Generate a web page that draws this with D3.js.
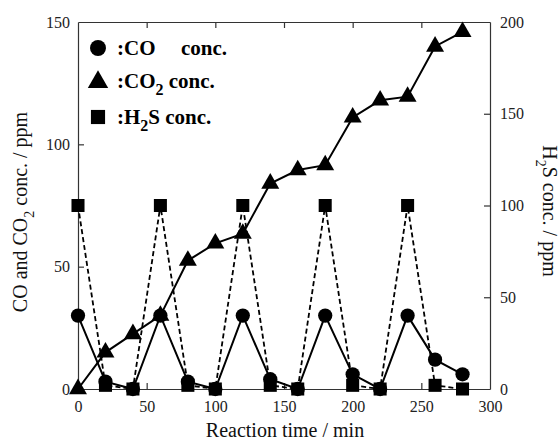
<!DOCTYPE html>
<html>
<head>
<meta charset="utf-8">
<script src="https://cdn.jsdelivr.net/npm/d3@7"></script>
<style>
    body { margin: 0; background: #fff; }
    svg text { font-family: "Liberation Serif", "Times New Roman", Times, serif !important; }
</style>
</head>
<body>
<div id="chart"></div>
<script>
var times = [0, 20, 40, 60, 80, 100, 120, 140, 160, 180, 200, 220, 240, 260, 280];
var coConc = [30, 3, 0, 30, 3, 0, 30, 4, 0, 30, 6, 0, 30, 12, 6];
var co2Conc = [0, 15, 22.5, 30, 52.5, 59.5, 63.5, 84, 89.5, 91.5, 111, 118, 119.5, 140, 146];
var h2sConc = [100, 2, 0, 100, 2, 0, 100, 2, 0, 100, 2, 0, 100, 2, 0];
var xTicks = [0, 50, 100, 150, 200, 250, 300];
var leftTicks = [0, 50, 100, 150];
var rightTicks = [0, 50, 100, 150, 200];

var width = 560, height = 442;
var margin = {left: 78, right: 70, top: 22, bottom: 53};
var serif = "Liberation Serif";

var svg = d3.select("#chart")
    .append("svg")
    .attr("width", width)
    .attr("height", height)
    .attr("font-family", serif);

var x = d3.scaleLinear()
    .domain([0, 300])
    .range([margin.left, width - margin.right]);

var yL = d3.scaleLinear()
    .domain([0, 150])
    .range([height - margin.bottom, margin.top]);

var yR = d3.scaleLinear()
    .domain([0, 200])
    .range([height - margin.bottom, margin.top]);

var tickLen = 6;
var frameColor = "#333";

// frame box with inward ticks
function styleAxis(g) {
    g.attr("font-family", serif);
    g.select(".domain").attr("stroke", frameColor).attr("stroke-width", 1.2);
    g.selectAll(".tick line").attr("stroke", frameColor).attr("stroke-width", 1.2);
    g.selectAll(".tick text")
        .attr("font-family", serif)
        .attr("font-size", "16px")
        .attr("fill", "#222");
}

svg.append("g")
    .attr("transform", "translate(0," + yL(0) + ")")
    .call(d3.axisBottom(x).tickValues(xTicks).tickSizeInner(-tickLen).tickSizeOuter(0).tickPadding(12))
    .call(styleAxis)
    .call(function (g) {
        g.selectAll(".tick").filter(function (d) { return d === 0 || d === 300; }).select("line").remove();
    });

svg.append("g")
    .attr("transform", "translate(0," + yL(150) + ")")
    .call(d3.axisTop(x).tickValues(xTicks.filter(function (d) { return d > 0 && d < 300; }))
        .tickSizeInner(-tickLen).tickSizeOuter(0).tickFormat(""))
    .call(styleAxis);

svg.append("g")
    .attr("transform", "translate(" + x(0) + ",0)")
    .call(d3.axisLeft(yL).tickValues(leftTicks).tickSizeInner(-tickLen).tickSizeOuter(0).tickPadding(8))
    .call(styleAxis)
    .call(function (g) {
        g.selectAll(".tick").filter(function (d) { return d === 0 || d === 150; }).select("line").remove();
    });

svg.append("g")
    .attr("transform", "translate(" + x(300) + ",0)")
    .call(d3.axisRight(yR).tickValues(rightTicks).tickSizeInner(-tickLen).tickSizeOuter(0).tickPadding(10))
    .call(styleAxis)
    .call(function (g) {
        g.selectAll(".tick").filter(function (d) { return d === 0 || d === 200; }).select("line").remove();
    });

// axis titles
svg.append("text")
    .attr("x", 285)
    .attr("y", 437)
    .attr("text-anchor", "middle")
    .attr("font-size", "20px")
    .attr("fill", "#111")
    .text("Reaction time / min");

var leftTitle = svg.append("text")
    .attr("transform", "translate(27," + 212 + ") rotate(-90)")
    .attr("text-anchor", "middle")
    .attr("font-size", "20px")
    .attr("fill", "#111");
leftTitle.append("tspan").text("CO and CO");
leftTitle.append("tspan").attr("dy", 7).attr("font-size", "14px").text("2");
leftTitle.append("tspan").attr("dy", -7).text(" conc. / ppm");

var rightTitle = svg.append("text")
    .attr("transform", "translate(543," + 211 + ") rotate(90)")
    .attr("text-anchor", "middle")
    .attr("font-size", "20px")
    .attr("fill", "#111");
rightTitle.append("tspan").text("H");
rightTitle.append("tspan").attr("dy", 7).attr("font-size", "14px").text("2");
rightTitle.append("tspan").attr("dy", -7).text("S conc. / ppm");

// lines
var lineL = d3.line()
    .x(function (d) { return x(d[0]); })
    .y(function (d) { return yL(d[1]); });
var lineR = d3.line()
    .x(function (d) { return x(d[0]); })
    .y(function (d) { return yR(d[1]); });

var coData = times.map(function (t, i) { return [t, coConc[i]]; });
var co2Data = times.map(function (t, i) { return [t, co2Conc[i]]; });
var h2sData = times.map(function (t, i) { return [t, h2sConc[i]]; });

svg.append("path")
    .datum(coData)
    .attr("fill", "none")
    .attr("stroke", "#000")
    .attr("stroke-width", 2)
    .attr("d", lineL);

svg.append("path")
    .datum(co2Data)
    .attr("fill", "none")
    .attr("stroke", "#000")
    .attr("stroke-width", 2)
    .attr("d", lineL);

svg.append("path")
    .datum(h2sData)
    .attr("fill", "none")
    .attr("stroke", "#000")
    .attr("stroke-width", 1.8)
    .attr("stroke-dasharray", "5,3")
    .attr("d", lineR);

// markers
var circleSym = d3.symbol().type(d3.symbolCircle).size(160);
var triSym = d3.symbol().type(d3.symbolTriangle).size(140);
var sqSym = d3.symbol().type(d3.symbolSquare).size(170);

svg.append("g").selectAll("path")
    .data(coData)
    .enter().append("path")
    .attr("transform", function (d) { return "translate(" + x(d[0]) + "," + yL(d[1]) + ")"; })
    .attr("d", circleSym)
    .attr("fill", "#000");

svg.append("g").selectAll("path")
    .data(co2Data)
    .enter().append("path")
    .attr("transform", function (d) { return "translate(" + x(d[0]) + "," + yL(d[1]) + ")"; })
    .attr("d", triSym)
    .attr("fill", "#000");

svg.append("g").selectAll("path")
    .data(h2sData)
    .enter().append("path")
    .attr("transform", function (d) { return "translate(" + x(d[0]) + "," + yR(d[1]) + ")"; })
    .attr("d", sqSym)
    .attr("fill", "#000");

// legend
var legend = svg.append("g")
    .attr("font-family", serif)
    .attr("font-weight", "bold")
    .attr("font-size", "21px")
    .attr("fill", "#000");

legend.append("path")
    .attr("transform", "translate(98,48)")
    .attr("d", d3.symbol().type(d3.symbolCircle).size(200))
    .attr("fill", "#000");
legend.append("text").attr("x", 117).attr("y", 55).text(":CO");
legend.append("text").attr("x", 181).attr("y", 55).text("conc.");

legend.append("path")
    .attr("transform", "translate(98,82)")
    .attr("d", d3.symbol().type(d3.symbolTriangle).size(180))
    .attr("fill", "#000");
var t2 = legend.append("text").attr("x", 117).attr("y", 88);
t2.append("tspan").text(":CO");
t2.append("tspan").attr("dy", 7).attr("font-size", "16px").text("2");
t2.append("tspan").attr("dy", -7).text(" conc.");

legend.append("path")
    .attr("transform", "translate(98,117)")
    .attr("d", d3.symbol().type(d3.symbolSquare).size(200))
    .attr("fill", "#000");
var t3 = legend.append("text").attr("x", 117).attr("y", 124);
t3.append("tspan").text(":H");
t3.append("tspan").attr("dy", 7).attr("font-size", "16px").text("2");
t3.append("tspan").attr("dy", -7).text("S  conc.");
</script>
</body>
</html>
